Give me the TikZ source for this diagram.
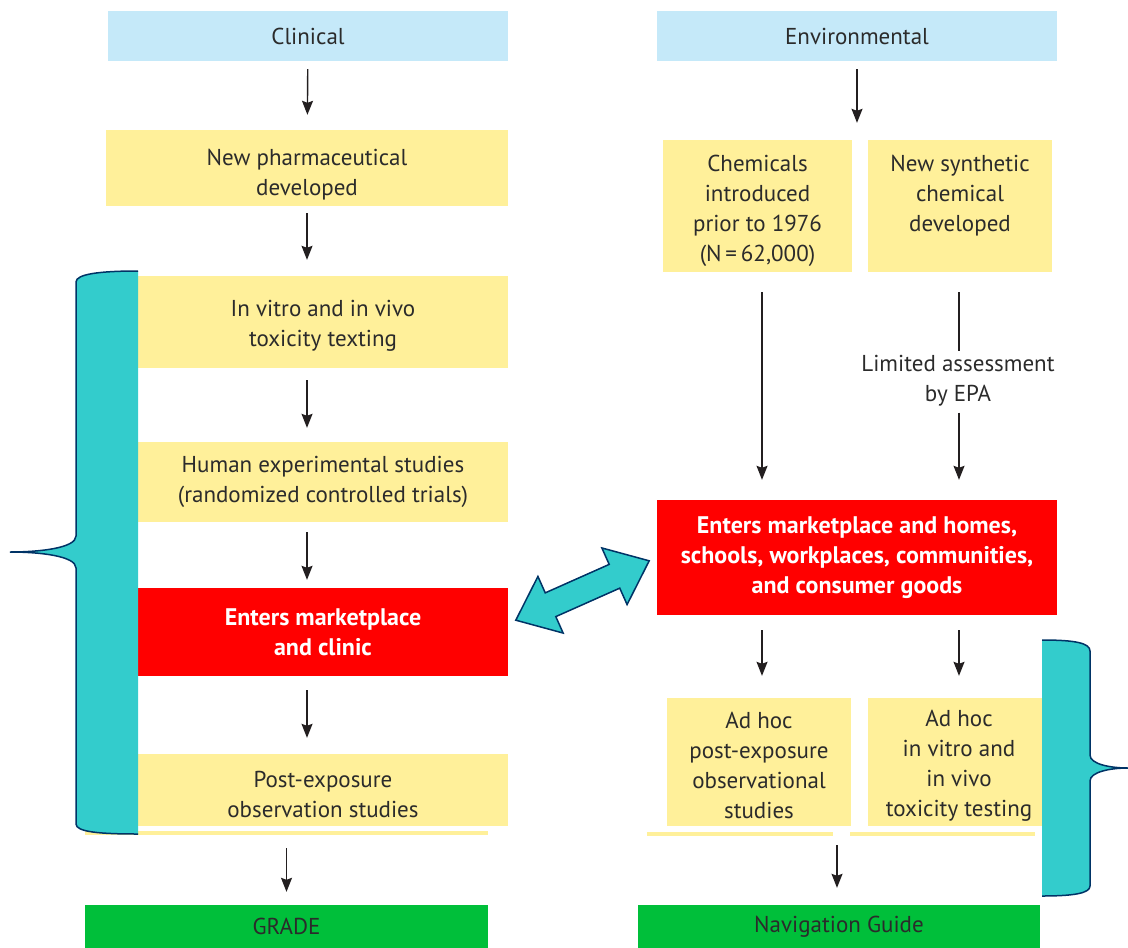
\documentclass[tikz,border=0pt]{standalone}
\usepackage{fontspec}
\setmainfont{PT Sans}
\usetikzlibrary{arrows.meta}
\definecolor{hdblue}{HTML}{C5E9F9}
\definecolor{boxyel}{HTML}{FFF09A}
\definecolor{mktred}{HTML}{FF0000}
\definecolor{grdgreen}{HTML}{00BF3A}
\definecolor{brteal}{HTML}{33CCCC}
\definecolor{brnavy}{HTML}{003366}
\definecolor{txtgray}{HTML}{2B2B2B}
\definecolor{arrgray}{HTML}{231F20}
% lowers the text of a box a little
\newcommand{\dnl}[1]{\rule{0pt}{#1}}

\begin{document}
\begin{tikzpicture}[x=1pt,y=-1pt,
  every node/.style={font=\fontsize{23}{30}\selectfont,text=txtgray,align=center,inner sep=0pt},
  hbox/.style={fill=hdblue,minimum width=400pt,minimum height=50pt},
  ybox/.style={fill=boxyel},
  rbox/.style={fill=mktred,text=white,font=\fontsize{24}{30}\selectfont\bfseries},
  gbox/.style={fill=grdgreen,minimum width=403pt,minimum height=43pt},
  arr/.style={draw=arrgray,line width=1.4pt,-{Stealth[length=14pt,width=11pt,inset=2pt]}},
  brc/.style={draw=brnavy,line width=1.5pt},
  sep/.style={draw=boxyel,line width=3.5pt}]
 \useasboundingbox (0,0) rectangle (1128,948);

 % clinical column
 \node[hbox] (clin) at (308,36) {Clinical};
 \node[ybox,minimum width=402pt,minimum height=76pt] (pharm) at (307,168) {\dnl{30pt}New pharmaceutical\\developed};
 \node[ybox,minimum width=370pt,minimum height=92pt] (vitro) at (323,322) {\dnl{24pt}In vitro and in vivo\\toxicity texting};
 \node[ybox,minimum width=370pt,minimum height=80pt] (human) at (323,482) {Human experimental studies\\(randomized controlled trials)};
 \node[rbox,minimum width=370pt,minimum height=88pt] (mkt) at (323,632) {Enters marketplace\\and clinic};
 \node[ybox,minimum width=370pt,minimum height=72pt] (post) at (323,790) {\dnl{26pt}Post-exposure\\observation studies};
 \draw[sep] (85,833) -- (488,833);
 \node[gbox] (grade) at (286.5,926.5) {GRADE};

 % environmental column
 \node[hbox] (env) at (857,36) {Environmental};
 \node[ybox,minimum width=189pt,minimum height=132pt] (chem) at (757.5,206) {\dnl{26pt}Chemicals\\introduced\\prior to 1976\\(N\,=\,62,000)};
 \node[ybox,minimum width=184pt,minimum height=132pt] (synth) at (960,206) {\dnl{20pt}New synthetic\\chemical\\developed\\\mbox{}};
 \node (epa) at (958,381) {Limited assessment\\by EPA};
 \node[rbox,minimum width=400pt,minimum height=115pt] (emkt) at (857,557.5) {Enters marketplace and homes,\\schools, workplaces, communities,\\and consumer goods};
 \node[ybox,minimum width=184pt,minimum height=128pt] (adpost) at (759,762) {\dnl{24pt}Ad hoc\\post-exposure\\observational\\studies};
 \node[ybox,minimum width=182pt,minimum height=128pt] (adtox) at (959,762) {\dnl{24pt}Ad hoc\\in vitro and\\in vivo\\toxicity testing};
 \draw[sep] (647,834) -- (833,834);
 \draw[sep] (850,834) -- (1035,834);
 \node[gbox,minimum width=402pt] (nav) at (839,926.5) {Navigation Guide};

 % arrows
 \draw[arr,shorten <=8pt,shorten >=15pt] (clin) -- (pharm);
 \draw[arr,shorten <=7pt,shorten >=16pt] (pharm.south) -- (pharm.south |- vitro.north);
 \draw[arr,shorten <=12pt,shorten >=14pt] (pharm.south |- vitro.south) -- (pharm.south |- human.north);
 \draw[arr,shorten <=10pt,shorten >=8pt] (pharm.south |- human.south) -- (pharm.south |- mkt.north);
 \draw[arr,shorten <=14pt,shorten >=16pt] (pharm.south |- mkt.south) -- (pharm.south |- post.north);
 \draw[arr,shorten <=22pt,shorten >=13pt] (grade.north |- post.south) -- (grade.north);
 \draw[arr,shorten <=8pt,shorten >=17pt] (env) -- (env.south |- chem.north);
 \draw[arr,shorten <=20pt,shorten >=20pt] ([xshift=4.5pt]chem.south) -- ([xshift=4.5pt]chem.south |- emkt.north);
 \draw[draw=arrgray,line width=1.4pt,shorten <=20pt,shorten >=4pt] ([xshift=-1pt]synth.south) -- ([xshift=-1pt]synth.south |- epa.north);
 \draw[arr,shorten <=6pt,shorten >=20pt] ([xshift=-1pt]synth.south |- epa.south) -- ([xshift=-1pt]synth.south |- emkt.north);
 \draw[arr,shorten <=15pt,shorten >=22pt] ([xshift=3pt]adpost.north |- emkt.south) -- ([xshift=3pt]adpost.north);
 \draw[arr,shorten <=15pt,shorten >=22pt] (adtox.north |- emkt.south) -- (adtox.north);
 \draw[arr,shorten <=19pt,shorten >=17pt] ([xshift=-2pt]nav.north |- adpost.south) -- ([xshift=-2pt]nav.north);

 % braces
 \fill[brteal] (138,271) .. controls (100,271) and (76,274) .. (76,282) -- (76,536) .. controls (76,548) and (40,552) .. (10,552) .. controls (40,552) and (76,556) .. (76,568) -- (76,824) .. controls (76,832) and (100,834) .. (138,834) -- cycle;
 \draw[brc] (138,271) .. controls (100,271) and (76,274) .. (76,282) -- (76,536) .. controls (76,548) and (40,552) .. (10,552) .. controls (40,552) and (76,556) .. (76,568) -- (76,824) .. controls (76,832) and (100,834) .. (138,834);
 \fill[brteal] (1042,640) .. controls (1075,640) and (1090,643) .. (1090,651) -- (1090,755) .. controls (1090,764) and (1110,768) .. (1128,768) .. controls (1110,768) and (1090,772) .. (1090,781) -- (1090,886) .. controls (1090,893) and (1075,896) .. (1042,896) -- cycle;
 \draw[brc] (1042,640) .. controls (1075,640) and (1090,643) .. (1090,651) -- (1090,755) .. controls (1090,764) and (1110,768) .. (1128,768) .. controls (1110,768) and (1090,772) .. (1090,781) -- (1090,886) .. controls (1090,893) and (1075,896) .. (1042,896);

 % link between the two marketplaces
 \begin{scope}[shift={(582.5,590.5)},rotate=24]
  \filldraw[fill=brteal,brc] (-73,0) -- (-35,31) -- (-35,13) -- (35,13) -- (35,31) -- (73,0) -- (35,-31) -- (35,-13) -- (-35,-13) -- (-35,-31) -- cycle;
 \end{scope}
\end{tikzpicture}
\end{document}
